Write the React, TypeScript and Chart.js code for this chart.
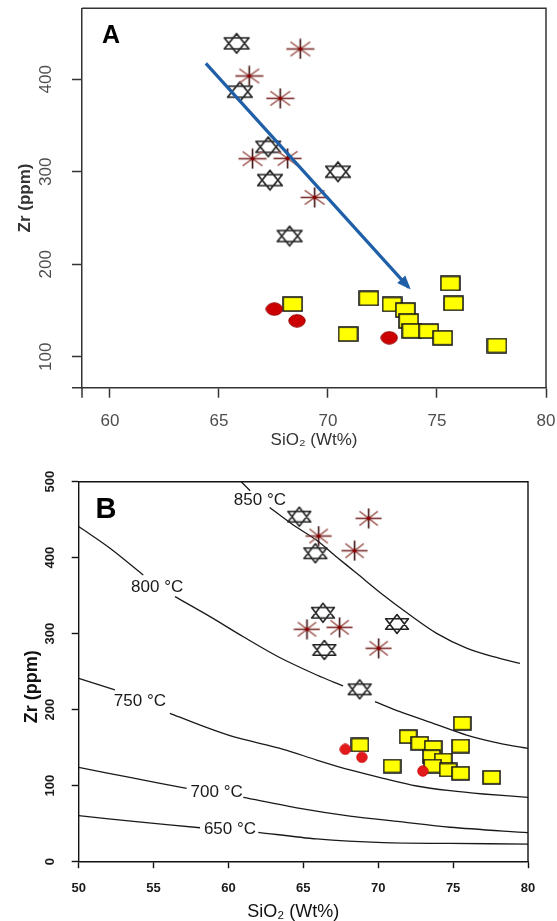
import React, { useEffect, useRef } from 'react';
import { Chart, registerables } from 'chart.js';

Chart.register(...registerables);

const FONT = "'Liberation Sans', Arial, Helvetica, sans-serif";

// ---------- Panel A data ----------
const aHexX = [65.81, 65.96, 67.26, 67.34, 70.46, 68.24];
const aHexY = [438.9, 386.6, 327, 291, 300, 230.5];
const aAstX = [68.73, 66.39, 67.81, 66.54, 68.15, 69.39];
const aAstY = [432.8, 403.6, 379.4, 314.1, 314.5, 272.3];
const aCirX = [67.54, 68.58, 72.81];
const aCirY = [151.5, 138.9, 120.5];
const aSqX = [68.38, 71.87, 72.94, 73.55, 73.7, 73.85, 74.62, 75.26, 70.92, 75.61, 75.76, 77.75];
const aSqY = [156.9, 163.1, 156.6, 150.4, 138.5, 128, 127.7, 120.5, 124.5, 179.3, 157.7, 112.1];
const aArrowX = [64.4, 73.7];
const aArrowY = [417.3, 175];
const aXTicks = [60, 65, 70, 75, 80];
const aYTicks = [100, 200, 300, 400];

// ---------- Panel B data ----------
const bHexX = [64.73, 65.8, 66.31, 66.4, 71.25, 68.76];
const bHexY = [454, 405.8, 327.6, 278.6, 312.8, 226.8];
const bAstX = [69.36, 66.02, 68.42, 65.24, 67.42, 70.03];
const bAstY = [451.8, 428.5, 409.2, 305.8, 308.4, 280.8];
const bCirX = [67.8, 68.91, 72.98];
const bCirY = [147.9, 137.4, 119.3];
const bSqX = [68.78, 72.0, 72.78, 73.67, 73.56, 74.34, 73.63, 74.67, 75.5, 70.93, 75.61, 75.5, 77.57];
const bSqY = [153.6, 164.5, 155.8, 150.5, 138.2, 133.8, 125.9, 120.7, 116.3, 125.9, 182.1, 152.2, 111];
const bXTicks = [50, 55, 60, 65, 70, 75, 80];
const bYTicks = [0, 100, 200, 300, 400, 500];

// Zircon saturation isotherms (null = gap for the label / marker)
const iso850X = [60.85, 61.45, null, 62.75, 64.33, 65.89, 67.22, 68.56, 70.33, 72.12, 73.9, 75.9, 77.68, 79.46];
const iso850Y = [500, 488, null, 466, 443, 423, 401, 379.5, 351, 324.6, 300.5, 281, 269.7, 261];
const iso800X = [50, 52.09, 54.31, null, 56.43, 58.77, 60.99, 63.32, 65.89, 67.66, null, 69.78, 71.45, 73.67, 75.9, 78.12, 80];
const iso800Y = [441, 412.4, 377.2, null, 348.7, 322.4, 296, 269.7, 245.7, 231.2, null, 210.5, 197.4, 182.1, 166.7, 155.8, 149.2];
const iso750X = [50, 52.42, null, 56.09, 58.2, 60.32, 63.66, 65.89, 68.11, 70.33, 72.56, 74.79, 77.01, 80];
const iso750Y = [241.3, 226, null, 195.3, 179, 164.5, 147.9, 133.8, 120.7, 109.7, 99.6, 93.4, 89.1, 84.7];
const iso700X = [50, 53.5, 57.21, null, 60.99, 64.77, 68.11, 71.45, 74.79, 80];
const iso700Y = [124.2, 110.5, 96.6, null, 84.7, 70.3, 60.1, 52.6, 45.3, 38.2];
const iso650X = [50, 54, 58.1, null, 61.99, 65.89, 70.33, 74.79, 80];
const iso650Y = [60.5, 52.5, 44.7, null, 38.7, 29.9, 25, 24.1, 23.2];

const isoLabels = ['850 °C', '800 °C', '750 °C', '700 °C', '650 °C'];
const isoLabelX = [62.1, 55.24, 54.09, 59.21, 60.1];
const isoLabelY = [476, 360.8, 210.5, 91, 42.8];

// ---------- helpers ----------
const zip = (xs: (number | null)[], ys: (number | null)[]) => xs.map((x, i) => ({ x, y: ys[i] }));

function makeCanvas(w: number, h: number, draw: (ctx: CanvasRenderingContext2D) => void) {
  const c = document.createElement('canvas');
  c.width = w;
  c.height = h;
  const ctx = c.getContext('2d') as CanvasRenderingContext2D;
  draw(ctx);
  return c;
}

function hexagram(w: number, h: number, color: string, lw: number) {
  return makeCanvas(w, h, (ctx) => {
    ctx.strokeStyle = color;
    ctx.lineWidth = lw;
    ctx.lineJoin = 'round';
    const p = lw;
    ctx.beginPath();
    ctx.moveTo(w / 2, p);
    ctx.lineTo(w - p, h * 0.74);
    ctx.lineTo(p, h * 0.74);
    ctx.closePath();
    ctx.moveTo(w / 2, h - p);
    ctx.lineTo(w - p, h * 0.26);
    ctx.lineTo(p, h * 0.26);
    ctx.closePath();
    ctx.stroke();
  });
}

function asterisk(w: number, h: number) {
  return makeCanvas(w, h, (ctx) => {
    const cx = w / 2, cy = h / 2, rx = w / 2 - 0.5, ry = h / 2 - 0.5;
    const d = Math.SQRT1_2;
    const line = (x1: number, y1: number, x2: number, y2: number) => {
      ctx.beginPath();
      ctx.moveTo(x1, y1);
      ctx.lineTo(x2, y2);
      ctx.stroke();
    };
    ctx.lineWidth = 1.6;
    ctx.strokeStyle = '#a5645e';
    line(cx - rx * d, cy - ry * d, cx + rx * d, cy + ry * d);
    line(cx - rx * d, cy + ry * d, cx + rx * d, cy - ry * d);
    ctx.strokeStyle = '#7a2e2c';
    line(cx - rx, cy, cx + rx, cy);
    ctx.strokeStyle = '#3d1010';
    line(cx, cy - ry, cx, cy + ry);
    ctx.fillStyle = '#8b0000';
    ctx.beginPath();
    ctx.arc(cx, cy, 2, 0, Math.PI * 2);
    ctx.fill();
  });
}

function ellipseImg(w: number, h: number, fill: string, stroke: string) {
  return makeCanvas(w, h, (ctx) => {
    ctx.beginPath();
    ctx.ellipse(w / 2, h / 2, w / 2 - 0.8, h / 2 - 0.8, 0, 0, Math.PI * 2);
    ctx.fillStyle = fill;
    ctx.fill();
    ctx.lineWidth = 1;
    ctx.strokeStyle = stroke;
    ctx.stroke();
  });
}

function squareImg(w: number, h: number, fill: string, stroke: string) {
  return makeCanvas(w, h, (ctx) => {
    ctx.fillStyle = fill;
    ctx.fillRect(1, 1, w - 2, h - 2);
    ctx.lineWidth = 1.6;
    ctx.strokeStyle = stroke;
    ctx.strokeRect(1, 1, w - 2, h - 2);
  });
}

// frame (top/right) + optional corner extensions
function framePlugin(color: string, width: number, ext: number) {
  return {
    id: 'frame',
    afterDraw(chart: any) {
      const { ctx, chartArea: a } = chart;
      ctx.save();
      ctx.strokeStyle = color;
      ctx.lineWidth = width;
      ctx.beginPath();
      ctx.moveTo(a.left, a.top);
      ctx.lineTo(a.right, a.top);
      ctx.lineTo(a.right, a.bottom);
      if (ext > 0) {
        ctx.moveTo(a.left - ext, a.bottom);
        ctx.lineTo(a.left, a.bottom);
        ctx.moveTo(a.left, a.bottom);
        ctx.lineTo(a.left, a.bottom + ext);
      }
      ctx.stroke();
      ctx.restore();
    },
  };
}

function letterPlugin(text: string, size: number, dx: number, dy: number) {
  return {
    id: 'panelLetter',
    afterDraw(chart: any) {
      const { ctx, chartArea: a } = chart;
      ctx.save();
      ctx.font = `bold ${size}px ${FONT}`;
      ctx.fillStyle = '#000';
      ctx.textAlign = 'center';
      ctx.textBaseline = 'middle';
      ctx.fillText(text, a.left + dx, a.top + dy);
      ctx.restore();
    },
  };
}

const arrowPlugin = {
  id: 'arrowHead',
  afterDatasetsDraw(chart: any) {
    const meta = chart.getDatasetMeta(0);
    const pts = meta.data;
    if (!pts || pts.length < 2) return;
    const p0 = pts[pts.length - 2], p1 = pts[pts.length - 1];
    const ang = Math.atan2(p1.y - p0.y, p1.x - p0.x);
    const ctx = chart.ctx;
    ctx.save();
    ctx.translate(p1.x, p1.y);
    ctx.rotate(ang);
    ctx.beginPath();
    ctx.moveTo(3, 0);
    ctx.lineTo(-11, -5.5);
    ctx.lineTo(-11, 5.5);
    ctx.closePath();
    ctx.fillStyle = '#1f5fa8';
    ctx.fill();
    ctx.restore();
  },
};

const isoLabelPlugin = {
  id: 'isoLabels',
  afterDatasetsDraw(chart: any) {
    const { ctx, scales } = chart;
    ctx.save();
    ctx.font = `17px ${FONT}`;
    ctx.fillStyle = '#1a1a1a';
    ctx.textAlign = 'center';
    ctx.textBaseline = 'middle';
    isoLabels.forEach((t, i) => {
      ctx.fillText(t, scales.x.getPixelForValue(isoLabelX[i]), scales.y.getPixelForValue(isoLabelY[i]));
    });
    ctx.restore();
  },
};

function axisCommon(color: string, tl: number, lw: number) {
  return {
    grid: { display: true, drawOnChartArea: false, drawTicks: true, tickLength: tl, tickWidth: lw, tickColor: color },
    border: { display: true, color, width: lw },
  };
}

const fitX = (h: number) => (s: any) => {
  s.height = h;
  s.paddingLeft = 0;
  s.paddingRight = 0;
};
const fitY = (w: number) => (s: any) => {
  s.width = w;
  s.paddingTop = 0;
  s.paddingBottom = 0;
};

function buildA() {
  const hex = hexagram(28, 23, '#222', 1.7);
  const ast = asterisk(29, 21);
  const cir = ellipseImg(18, 14, '#cc0000', '#990000');
  const sq = squareImg(21, 16, '#ffff00', '#1a1a1a');
  return {
    type: 'scatter',
    data: {
      datasets: [
        { label: 'trend', data: zip(aArrowX, aArrowY), showLine: true, borderColor: '#1f5fa8', borderWidth: 3.2, pointRadius: 0, order: 0 },
        { label: 'asterisk', data: zip(aAstX, aAstY), pointStyle: ast, pointRadius: 6, order: 1 },
        { label: 'hexagram', data: zip(aHexX, aHexY), pointStyle: hex, pointRadius: 6, order: 2 },
        { label: 'circle', data: zip(aCirX, aCirY), pointStyle: cir, pointRadius: 6, order: 3 },
        { label: 'square', data: zip(aSqX, aSqY), pointStyle: sq, pointRadius: 6, order: 4 },
      ],
    },
    options: {
      animation: false,
      responsive: false,
      maintainAspectRatio: false,
      events: [],
      layout: { padding: { left: 0, right: 11, top: 8.3, bottom: 0 } },
      plugins: { legend: { display: false }, tooltip: { enabled: false } },
      scales: {
        x: {
          type: 'linear',
          min: 58.72,
          max: 80,
          afterFit: fitX(72.3),
          afterBuildTicks: (s: any) => { s.ticks = aXTicks.map((v) => ({ value: v })); },
          ...axisCommon('#333', 10, 1.5),
          ticks: { font: { family: FONT, size: 17 }, color: '#4d4d4d', padding: 13, maxRotation: 0, autoSkip: false },
          title: { display: true, text: 'SiO₂ (Wt%)', font: { family: FONT, size: 17, lineHeight: 1 }, color: '#333', padding: { top: 0, bottom: 10.8 } },
        },
        y: {
          type: 'linear',
          min: 66.5,
          max: 476.8,
          afterFit: fitY(82),
          afterBuildTicks: (s: any) => { s.ticks = aYTicks.map((v) => ({ value: v })); },
          ...axisCommon('#333', 10, 1.5),
          ticks: { font: { family: FONT, size: 17 }, color: '#4d4d4d', padding: 11.8, minRotation: 90, maxRotation: 90, crossAlign: 'center', autoSkip: false },
          title: { display: true, text: 'Zr (ppm)', font: { family: FONT, size: 17, weight: 'bold', lineHeight: 1 }, color: '#333', padding: { top: 16.5, bottom: 0 } },
        },
      },
    },
    plugins: [framePlugin('#333', 1.5, 10), letterPlugin('A', 25, 29, 28.2), arrowPlugin],
  };
}

function buildB() {
  const hex = hexagram(26, 22, '#222', 1.6);
  const ast = asterisk(27, 21);
  const cir = ellipseImg(12, 12, '#e31a1c', '#d01010');
  const sq = squareImg(19, 15, '#ffff00', '#1a1a1a');
  const curve = (xs: (number | null)[], ys: (number | null)[], label: string) => ({
    label,
    data: zip(xs, ys),
    showLine: true,
    spanGaps: false,
    borderColor: '#1a1a1a',
    borderWidth: 1.3,
    pointRadius: 0,
    tension: 0.3,
    order: 10,
  });
  return {
    type: 'scatter',
    data: {
      datasets: [
        { label: 'asterisk', data: zip(bAstX, bAstY), pointStyle: ast, pointRadius: 6, order: 1 },
        { label: 'hexagram', data: zip(bHexX, bHexY), pointStyle: hex, pointRadius: 6, order: 2 },
        { label: 'circle', data: zip(bCirX, bCirY), pointStyle: cir, pointRadius: 6, order: 3 },
        { label: 'square', data: zip(bSqX, bSqY), pointStyle: sq, pointRadius: 6, order: 4 },
        curve(iso850X, iso850Y, '850'),
        curve(iso800X, iso800Y, '800'),
        curve(iso750X, iso750Y, '750'),
        curve(iso700X, iso700Y, '700'),
        curve(iso650X, iso650Y, '650'),
      ],
    },
    options: {
      animation: false,
      responsive: false,
      maintainAspectRatio: false,
      events: [],
      layout: { padding: { left: 0, right: 29, top: 21.7, bottom: 0 } },
      plugins: { legend: { display: false }, tooltip: { enabled: false } },
      scales: {
        x: {
          type: 'linear',
          min: 50,
          max: 80,
          afterFit: fitX(59.3),
          afterBuildTicks: (s: any) => { s.ticks = bXTicks.map((v) => ({ value: v })); },
          ...axisCommon('#111', 6.5, 1.4),
          ticks: { font: { family: FONT, size: 13, weight: 'bold' }, color: '#1a1a1a', padding: 12, maxRotation: 0, autoSkip: false },
          title: { display: true, text: 'SiO₂ (Wt%)    ', font: { family: FONT, size: 18, lineHeight: 1 }, color: '#111', padding: { top: 0, bottom: 0.3 } },
        },
        y: {
          type: 'linear',
          min: 0,
          max: 500,
          afterFit: fitY(78.7),
          afterBuildTicks: (s: any) => { s.ticks = bYTicks.map((v) => ({ value: v })); },
          ...axisCommon('#111', 7, 1.4),
          ticks: { font: { family: FONT, size: 13, weight: 'bold' }, color: '#1a1a1a', padding: 10.8, minRotation: 90, maxRotation: 90, crossAlign: 'center', autoSkip: false },
          title: { display: true, text: 'Zr (ppm)      ', font: { family: FONT, size: 18, weight: 'bold', lineHeight: 1 }, color: '#111', padding: { top: 22.7, bottom: 0 } },
        },
      },
    },
    plugins: [framePlugin('#111', 1.4, 0), letterPlugin('B', 29, 27.3, 28.3), isoLabelPlugin],
  };
}

function ChartBox({ build, width, height }: { build: () => any; width: number; height: number }) {
  const ref = useRef<HTMLCanvasElement | null>(null);
  useEffect(() => {
    if (!ref.current) return;
    const chart = new Chart(ref.current, build());
    return () => chart.destroy();
  }, [build]);
  return <canvas ref={ref} width={width} height={height} style={{ display: 'block', width, height }} />;
}

export default function App() {
  return (
    <div style={{ position: 'absolute', left: 0, top: 0, width: 557, height: 921, background: '#fff' }}>
      <ChartBox build={buildA} width={557} height={460} />
      <ChartBox build={buildB} width={557} height={461} />
    </div>
  );
}
